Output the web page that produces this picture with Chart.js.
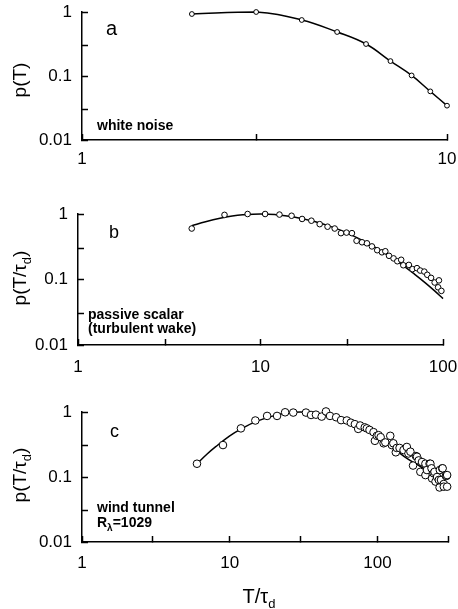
<!DOCTYPE html>
<html>
<head>
<meta charset="UTF-8">
<title>p(T)</title>
<script src="https://cdn.jsdelivr.net/npm/chart.js"></script>
<style>
  body { margin: 0; background: #fff; }
  .panel { position: absolute; left: 0; width: 458px; }
</style>
</head>
<body>
<div class="panel" style="top:0;height:190px"><canvas id="chartA" width="458" height="190"></canvas></div>
<div class="panel" style="top:190px;height:200px"><canvas id="chartB" width="458" height="200"></canvas></div>
<div class="panel" style="top:390px;height:219px"><canvas id="chartC" width="458" height="219"></canvas></div>
<script>
// a: white noise
const aT = [2, 3, 4, 5, 6, 7, 8, 9, 10];
const aP = [0.93, 1.0, 0.75, 0.487, 0.316, 0.171, 0.102, 0.0575, 0.0344];

// b: passive scalar (turbulent wake)
const bT = [4.2, 6.35, 8.5, 10.6, 12.7, 14.8, 16.9, 19, 21.1, 23.3, 25.5, 27.6, 29.6, 31.7, 33.6, 36, 38.3,
  40.8, 43.6, 46.3, 48.3, 50.6, 53.6, 56.2, 59, 60.6, 65, 68, 72, 75, 79, 82, 86, 90, 94, 95, 98];
const bP = [0.60, 0.97, 1.0, 1.0, 0.98, 0.94, 0.84, 0.79, 0.70, 0.64, 0.60, 0.51, 0.52, 0.51, 0.39, 0.37, 0.357,
  0.32, 0.28, 0.26, 0.27, 0.23, 0.21, 0.19, 0.20, 0.165, 0.167, 0.144, 0.149, 0.137, 0.132, 0.118, 0.106, 0.09, 0.076, 0.097, 0.067];
const bFitT = [4.2, 5, 6, 7, 8, 10, 12, 15, 20, 25, 30, 40, 50, 60, 70, 80, 90, 100];
const bFitP = [0.66, 0.76, 0.86, 0.93, 0.97, 1.0, 0.98, 0.91, 0.76, 0.625, 0.51, 0.34, 0.234, 0.166, 0.12, 0.089, 0.067, 0.051];

// c: wind tunnel
const cT = [6, 9, 11.9, 14.9, 17.9, 20.9, 23.7, 26.9, 32.8, 35.5, 38.3, 41.9, 44.8, 47.7, 52.5, 56.7, 62, 66, 70.3,
  74, 76.3, 82, 84.7, 88.3, 94, 96, 99, 101.7, 105, 110, 113, 122, 125, 128, 133, 135, 141, 150, 158, 162, 167,
  174, 182, 185, 190, 195, 200, 211, 211, 216, 225, 228, 232, 234, 240, 243, 247, 253, 260, 263, 264, 269, 274,
  276, 281, 281, 290, 293, 296, 296];
const cP = [0.16, 0.31, 0.56, 0.74, 0.87, 0.87, 0.99, 0.98, 0.98, 0.90, 0.91, 0.85, 1.02, 0.87, 0.83, 0.75, 0.74, 0.685, 0.65,
  0.55, 0.62, 0.58, 0.56, 0.53, 0.49, 0.36, 0.43, 0.44, 0.41, 0.33, 0.34, 0.43, 0.31, 0.33, 0.24, 0.28, 0.28, 0.26, 0.29, 0.23, 0.245,
  0.15, 0.21, 0.205, 0.18, 0.12, 0.17, 0.16, 0.107, 0.128, 0.16, 0.16, 0.136, 0.095, 0.114, 0.12, 0.085, 0.10, 0.09, 0.069, 0.128, 0.09, 0.136,
  0.136, 0.078, 0.071, 0.104, 0.104, 0.071, 0.107];
const cFitT = [6, 7, 8, 10, 12, 15, 20, 25, 30, 40, 50, 60, 80, 100, 130, 160, 200, 250, 290];
const cFitP = [0.16, 0.224, 0.29, 0.43, 0.55, 0.71, 0.88, 0.97, 1.0, 0.95, 0.85, 0.74, 0.56, 0.41, 0.27, 0.19, 0.14, 0.10, 0.08];

const xTicksA = [1, 3, 10], xLabelsA = ['1', '', '10'];
const xTicksB = [1, 3, 10, 30, 100], xLabelsB = ['1', '', '10', '', '100'];
const xTicksC = [1, 3, 10, 30, 100, 300], xLabelsC = ['1', '', '10', '', '100', ''];
const yTicks = [0.01, 0.03, 0.1, 0.3, 1], yLabels = ['0.01', '', '0.1', '', '1'];

const FAM = '"Liberation Sans", Arial, Helvetica, sans-serif';

// draws the free text (panel letters, notes, axis titles with subscripts)
const panelText = {
  id: 'panelText',
  afterDraw(chart, args, opts) {
    const ctx = chart.ctx;
    (opts.items || []).forEach(it => {
      ctx.save();
      ctx.fillStyle = '#000';
      ctx.textBaseline = 'alphabetic';
      ctx.textAlign = 'left';
      ctx.translate(it.x, it.y);
      if (it.rotate) ctx.rotate(it.rotate * Math.PI / 180);
      let total = 0;
      it.parts.forEach(p => { ctx.font = p[1] + ' ' + FAM; total += ctx.measureText(p[0]).width; });
      let x = it.align === 'center' ? -total / 2 : 0;
      it.parts.forEach(p => {
        ctx.font = p[1] + ' ' + FAM;
        ctx.fillText(p[0], x, p[2] || 0);
        x += ctx.measureText(p[0]).width;
      });
      ctx.restore();
    });
  }
};

function pts(xs, ys) { return xs.map((x, i) => ({ x: x, y: ys[i] })); }

function makePanel(id, c) {
  return new Chart(document.getElementById(id), {
    type: 'scatter',
    data: {
      datasets: [
        { data: pts(c.t, c.p), pointRadius: c.r, pointBackgroundColor: '#fff', pointBorderColor: '#000',
          pointBorderWidth: 1, order: 0, clip: false },
        { data: pts(c.fitT, c.fitP), showLine: true, borderColor: '#000', borderWidth: 1.5, pointRadius: 0,
          tension: 0.4, order: 1, clip: false }
      ]
    },
    options: {
      responsive: false,
      animation: false,
      events: [],
      layout: { autoPadding: false, padding: { top: c.top, right: c.right, left: 0, bottom: 0 } },
      plugins: { legend: { display: false }, tooltip: { enabled: false }, panelText: { items: c.texts } },
      scales: {
        x: {
          type: 'logarithmic', min: 1, max: c.xMax,
          afterBuildTicks: s => { s.ticks = c.xTicks.map(v => ({ value: v })); },
          afterFit: s => { s.height = c.xH; s.paddingLeft = 0; s.paddingRight = 0; },
          ticks: { autoSkip: false, maxRotation: 0, minRotation: 0, color: '#000', padding: c.xPad,
            font: { family: FAM, size: 17 }, callback: (v, i) => c.xLabels[i] },
          grid: { drawOnChartArea: false, tickLength: -6, tickWidth: 1.5, tickColor: '#000' },
          border: { color: '#000', width: 1.5 }
        },
        y: {
          type: 'logarithmic', min: 0.01, max: 1,
          afterBuildTicks: s => { s.ticks = yTicks.map(v => ({ value: v })); },
          afterFit: s => { s.width = c.left; s.paddingTop = 0; s.paddingBottom = 0; },
          ticks: { autoSkip: false, color: '#000', padding: 16,
            font: { family: FAM, size: 17 }, callback: (v, i) => yLabels[i] },
          grid: { drawOnChartArea: false, tickLength: -6, tickWidth: 1.5, tickColor: '#000' },
          border: { color: '#000', width: 1.5 }
        }
      }
    },
    plugins: [panelText]
  });
}

makePanel('chartA', {
  t: aT, p: aP, fitT: aT, fitP: aP, r: 2.4,
  xMax: 10, xTicks: xTicksA, xLabels: xLabelsA,
  top: 12, right: 11, left: 82, xH: 50, xPad: 15,
  texts: [
    { parts: [['a', '20px']], x: 106, y: 35 },
    { parts: [['white noise', 'bold 14px']], x: 97, y: 130 },
    { parts: [['p(T)', '19px']], x: 26, y: 80, rotate: -90, align: 'center' }
  ]
});

makePanel('chartB', {
  t: bT, p: bP, fitT: bFitT, fitP: bFitP, r: 2.8,
  xMax: 100, xTicks: xTicksB, xLabels: xLabelsB,
  top: 24, right: 15, left: 78, xH: 45, xPad: 18,
  texts: [
    { parts: [['b', '18px']], x: 109, y: 48 },
    { parts: [['passive scalar', 'bold 14px']], x: 88, y: 129 },
    { parts: [['(turbulent wake)', 'bold 14px']], x: 88, y: 143 },
    { parts: [['p(T/τ', '19px'], ['d', '13px', 5], [')', '19px']], x: 26, y: 88, rotate: -90, align: 'center' }
  ]
});

makePanel('chartC', {
  t: cT, p: cP, fitT: cFitT, fitP: cFitP, r: 3.8,
  xMax: 300, xTicks: xTicksC, xLabels: xLabelsC,
  top: 22, right: 10, left: 82, xH: 67, xPad: 17,
  texts: [
    { parts: [['c', '18px']], x: 110, y: 47 },
    { parts: [['wind tunnel', 'bold 14px']], x: 97, y: 122 },
    { parts: [['R', 'bold 14px'], ['λ', 'bold 10px', 4], ['=1029', 'bold 14px']], x: 97, y: 137 },
    { parts: [['p(T/τ', '19px'], ['d', '13px', 5], [')', '19px']], x: 26, y: 85, rotate: -90, align: 'center' },
    { parts: [['T/τ', '20px'], ['d', '13px', 5]], x: 259, y: 213, align: 'center' }
  ]
});
</script>
</body>
</html>
